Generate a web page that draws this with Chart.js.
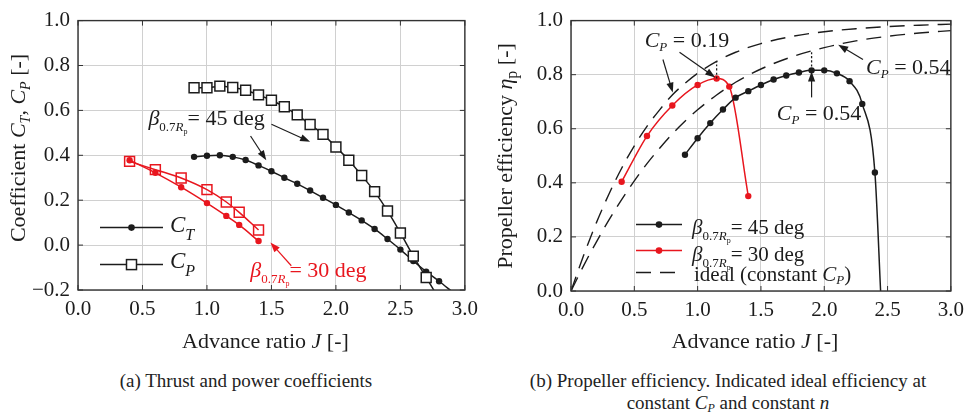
<!DOCTYPE html>
<html>
<head>
<meta charset="utf-8">
<script src="https://cdn.jsdelivr.net/npm/chart.js@4.4.0/dist/chart.umd.min.js"></script>
<style>
  body { margin: 0; width: 971px; height: 418px; background: #fff; position: relative; overflow: hidden;
         font-family: "Liberation Serif", "Times New Roman", serif; color: #222; }
  canvas { position: absolute; top: 0; }
  #left { left: 0; }
  #right { left: 485px; }
  .cap { position: absolute; font-size: 19px; text-align: center; line-height: 22px; }
  .cap sub { font-size: 12px; line-height: 0; vertical-align: -3px; }
</style>
</head>
<body>
<canvas id="left" width="485" height="360"></canvas>
<canvas id="right" width="486" height="360"></canvas>
<div class="cap" style="left:0;width:492px;top:370px">(a) Thrust and power coefficients</div>
<div class="cap" style="left:482px;width:492px;top:370px">(b) Propeller efficiency. Indicated ideal efficiency at<br>constant <i>C<sub>P</sub></i> and constant <i>n</i></div>

<script>
// ---- (a) thrust and power coefficients, beta = 45 deg ----
const jCt45 = [0.9, 1.0, 1.1, 1.2, 1.3, 1.4, 1.5, 1.6, 1.7, 1.8, 1.9, 2.0, 2.1, 2.2, 2.3, 2.4, 2.5, 2.6, 2.7, 2.8];
const ct45  = [0.393, 0.398, 0.400, 0.393, 0.379, 0.355, 0.329, 0.300, 0.273, 0.243, 0.211, 0.179, 0.145, 0.110, 0.072, 0.027, -0.020, -0.071, -0.118, -0.161];
const ct45End = [2.9, -0.207];   // line runs on past the last marker

const jCp45 = [0.9, 1.0, 1.1, 1.2, 1.3, 1.4, 1.5, 1.6, 1.7, 1.8, 1.9, 2.0, 2.1, 2.2, 2.3, 2.4, 2.5, 2.6, 2.7];
const cp45  = [0.701, 0.701, 0.708, 0.702, 0.690, 0.669, 0.645, 0.616, 0.580, 0.537, 0.493, 0.437, 0.378, 0.310, 0.238, 0.152, 0.054, -0.049, -0.144];
const cp45End = [2.8, -0.240];

// ---- (a) beta = 30 deg ----
const j30  = [0.4, 0.6, 0.8, 1.0, 1.15, 1.25, 1.4];
const ct30 = [0.378, 0.322, 0.258, 0.187, 0.130, 0.090, 0.018];
const cp30 = [0.373, 0.336, 0.299, 0.247, 0.192, 0.146, 0.067];

// ---- (b) propeller efficiency ----
const jEta45 = [0.9, 1.0, 1.1, 1.2, 1.3, 1.4, 1.5, 1.6, 1.7, 1.8, 1.9, 2.0, 2.1, 2.2, 2.3, 2.4];
const eta45  = [0.504, 0.565, 0.621, 0.671, 0.715, 0.739, 0.762, 0.782, 0.797, 0.808, 0.816, 0.816, 0.805, 0.776, 0.692, 0.438];
const eta45End = [2.447, -0.02];

const jEta30 = [0.4, 0.6, 0.8, 1.0, 1.15, 1.25, 1.4];
const eta30  = [0.404, 0.573, 0.686, 0.762, 0.786, 0.756, 0.351];

// ideal efficiency at constant C_P (dashed)
const jIdeal     = [0, 0.1, 0.2, 0.3, 0.4, 0.5, 0.6, 0.7, 0.8, 0.9, 1.0, 1.15, 1.3, 1.5, 1.75, 2.0, 2.25, 2.5, 2.75, 3.0];
const idealCp019 = [0, 0.132, 0.252, 0.359, 0.454, 0.537, 0.609, 0.670, 0.725, 0.768, 0.805, 0.849, 0.883, 0.915, 0.942, 0.959, 0.970, 0.978, 0.983, 0.987];
const idealCp054 = [0, 0.094, 0.181, 0.263, 0.338, 0.407, 0.471, 0.528, 0.581, 0.628, 0.670, 0.725, 0.772, 0.821, 0.867, 0.900, 0.925, 0.942, 0.954, 0.963];

// dotted markers from the operating points up to the ideal curves
const dropJ019 = [1.15, 1.15], dropEta019 = [0.786, 0.849];
const dropJ054 = [1.9, 1.9],   dropEta054 = [0.816, 0.888];

const xTicks = [0, 0.5, 1.0, 1.5, 2.0, 2.5, 3.0];

const FONT = '"Liberation Serif", "Times New Roman", serif';
const INK = '#1c1c1c';
const RED = '#e8161e';
const GRID = '#d0d0d0';

const pts = (xs, ys) => xs.map((x, i) => ({ x, y: ys[i] }));
const font = (size, italic) => (italic ? 'italic ' : '') + size + 'px ' + FONT;
const fmt = v => {
  const r = Math.round(v * 10) / 10;
  return (r < 0 ? '\u2212' : '') + Math.abs(r).toFixed(1);
};

// draw a row of text pieces: [text, size, italic, dy]
function runs(ctx, x, y, parts, align) {
  let w = 0;
  parts.forEach(p => { ctx.font = font(p[1], p[2]); w += ctx.measureText(p[0]).width; });
  let cx = align === 'center' ? x - w / 2 : align === 'right' ? x - w : x;
  ctx.textAlign = 'left';
  ctx.textBaseline = 'alphabetic';
  parts.forEach(p => {
    ctx.font = font(p[1], p[2]);
    ctx.fillText(p[0], cx, y + (p[3] || 0));
    cx += ctx.measureText(p[0]).width;
  });
}

function arrow(ctx, x1, y1, x2, y2, color) {
  const a = Math.atan2(y2 - y1, x2 - x1), L = 10, W = 3.6;
  ctx.strokeStyle = color; ctx.fillStyle = color; ctx.lineWidth = 1.2;
  ctx.beginPath(); ctx.moveTo(x1, y1);
  ctx.lineTo(x2 - L * 0.8 * Math.cos(a), y2 - L * 0.8 * Math.sin(a)); ctx.stroke();
  ctx.beginPath();
  ctx.moveTo(x2, y2);
  ctx.lineTo(x2 - L * Math.cos(a) + W * Math.sin(a), y2 - L * Math.sin(a) - W * Math.cos(a));
  ctx.lineTo(x2 - L * Math.cos(a) - W * Math.sin(a), y2 - L * Math.sin(a) + W * Math.cos(a));
  ctx.closePath(); ctx.fill();
}

const beta = (deg, size) => [['\u03b2', size, true, 0], ['0.7', 13, false, 6], ['R', 13, true, 6], ['p', 8, false, 9], ['= ' + deg + ' deg', size, false, 0]];

// frame, inner ticks, legend, annotations, axis titles
const deco = {
  id: 'deco',
  afterDraw(chart, args, o) {
    const { ctx, chartArea: a, scales: { x, y } } = chart;
    ctx.save();
    // frame + inward ticks
    ctx.strokeStyle = '#333'; ctx.lineWidth = 1.4;
    ctx.strokeRect(a.left, a.top, a.right - a.left, a.bottom - a.top);
    ctx.lineWidth = 1;
    ctx.beginPath();
    x.ticks.forEach(t => { const px = x.getPixelForValue(t.value);
      ctx.moveTo(px, a.bottom); ctx.lineTo(px, a.bottom - 5); ctx.moveTo(px, a.top); ctx.lineTo(px, a.top + 5); });
    y.ticks.forEach(t => { const py = y.getPixelForValue(t.value);
      ctx.moveTo(a.left, py); ctx.lineTo(a.left + 5, py); ctx.moveTo(a.right, py); ctx.lineTo(a.right - 5, py); });
    ctx.stroke();

    // annotations in data coordinates
    (o.texts || []).forEach(t => {
      ctx.fillStyle = t.color || INK;
      runs(ctx, x.getPixelForValue(t.at[0]), y.getPixelForValue(t.at[1]), t.parts, 'left');
    });
    (o.arrows || []).forEach(r => arrow(ctx,
      x.getPixelForValue(r.from[0]), y.getPixelForValue(r.from[1]),
      x.getPixelForValue(r.to[0]), y.getPixelForValue(r.to[1]), r.color || INK));

    // legend rows, offsets from the plot corner
    (o.legend || []).forEach(l => {
      const x1 = a.left + l.x1, x2 = a.left + l.x2, ly = a.top + l.y, mx = (x1 + x2) / 2;
      ctx.strokeStyle = l.color; ctx.lineWidth = 1.5;
      ctx.setLineDash(l.dash || []);
      ctx.beginPath(); ctx.moveTo(x1, ly); ctx.lineTo(x2, ly); ctx.stroke();
      ctx.setLineDash([]);
      if (l.marker === 'dot') {
        ctx.fillStyle = l.color; ctx.beginPath(); ctx.arc(mx, ly, 3.3, 0, Math.PI * 2); ctx.fill();
      } else if (l.marker === 'square') {
        ctx.fillStyle = '#fff'; ctx.fillRect(mx - 5, ly - 5, 10, 10);
        ctx.strokeRect(mx - 5, ly - 5, 10, 10);
      }
      ctx.fillStyle = INK;
      runs(ctx, a.left + l.tx, a.top + l.ty, l.parts, 'left');
    });

    // axis titles
    ctx.fillStyle = INK;
    runs(ctx, (a.left + a.right) / 2 + o.xTitleDx, o.xTitleY, o.xTitle, 'center');
    ctx.translate(o.yTitleX, o.yTitleY);
    ctx.rotate(-Math.PI / 2);
    runs(ctx, 0, 0, o.yTitle, 'center');
    ctx.restore();
  }
};

function axes(yMin, yMax, yWidth, xHeight) {
  const tickFont = { family: FONT, size: 21 };
  return {
    x: { type: 'linear', min: 0, max: 3,
         afterBuildTicks: s => { s.ticks = xTicks.map(v => ({ value: v })); },
         ticks: { padding: 7, color: INK, font: tickFont, callback: v => fmt(v), maxRotation: 0 },
         grid: { color: GRID, drawTicks: false, lineWidth: 1 }, border: { display: false },
         afterFit: s => { s.height = xHeight; } },
    y: { type: 'linear', min: yMin, max: yMax,
         ticks: { stepSize: 0.2, padding: 8, color: INK, font: tickFont, callback: v => fmt(v) },
         grid: { color: GRID, drawTicks: false, lineWidth: 1 }, border: { display: false },
         afterFit: s => { s.width = yWidth; } }
  };
}

const lineSet = (data, color, extra) => Object.assign({
  data, showLine: true, borderColor: color, backgroundColor: color, borderWidth: 1.5,
  pointRadius: 3.2, pointHoverRadius: 3.2, pointBorderWidth: 0, tension: 0.35, cubicInterpolationMode: 'monotone'
}, extra || {});

// hide the marker on the run-on end point
const hideLast = n => c => (c.dataIndex >= n ? 0 : 3.2);
const hideLastSq = n => c => (c.dataIndex >= n ? 0 : 7);

function drawCharts() {
  new Chart(document.getElementById('left'), {
    type: 'scatter',
    data: { datasets: [
      lineSet(pts(jCp45, cp45).concat([{ x: cp45End[0], y: cp45End[1] }]), INK,
        { pointStyle: 'rect', pointRadius: hideLastSq(cp45.length), pointBackgroundColor: '#fff', pointBorderWidth: 1.5, pointBorderColor: INK }),
      lineSet(pts(jCt45, ct45).concat([{ x: ct45End[0], y: ct45End[1] }]), INK, { pointRadius: hideLast(ct45.length) }),
      lineSet(pts(j30, cp30), RED,
        { pointStyle: 'rect', pointRadius: 7, pointBackgroundColor: 'rgba(255,255,255,0)', pointBorderWidth: 1.5, pointBorderColor: RED, tension: 0.1 }),
      lineSet(pts(j30, ct30), RED, { tension: 0.1 })
    ] },
    options: {
      responsive: false, animation: false, events: [],
      layout: { padding: { top: 12, right: 17, left: 0, bottom: 0 } },
      plugins: { legend: { display: false }, tooltip: { enabled: false },
        deco: {
          xTitle: [['Advance ratio ', 22, false], ['J', 22, true], [' [-]', 22, false]], xTitleY: 348, xTitleDx: -6,
          yTitle: [['Coefficient ', 22, false], ['C', 22, true], ['T', 14, true, 5], [', ', 22, false], ['C', 22, true], ['P', 14, true, 5], [' [-]', 22, false]],
          yTitleX: 25, yTitleY: 148,
          texts: [
            { at: [0.546, 0.537], parts: beta(45, 22) },
            { at: [1.336, -0.142], parts: beta(30, 22), color: RED }
          ],
          arrows: [
            { from: [1.50, 0.538], to: [1.80, 0.460] },
            { from: [1.338, 0.486], to: [1.46, 0.378] },
            { from: [1.654, -0.092], to: [1.492, 0.012], color: RED }
          ],
          legend: [
            { x1: 22, x2: 85, y: 207, color: INK, marker: 'dot', tx: 92, ty: 211, parts: [['C', 23, true], ['T', 16, true, 8]] },
            { x1: 22, x2: 85, y: 244, color: INK, marker: 'square', tx: 92, ty: 247, parts: [['C', 23, true], ['P', 16, true, 8]] }
          ]
        } },
      scales: axes(-0.2, 1.0, 78, 70)
    },
    plugins: [deco]
  });

  new Chart(document.getElementById('right'), {
    type: 'scatter',
    data: { datasets: [
      lineSet(pts(jIdeal, idealCp019), INK, { pointRadius: 0, borderDash: [15, 9], borderWidth: 1.4 }),
      lineSet(pts(jIdeal, idealCp054), INK, { pointRadius: 0, borderDash: [15, 9], borderWidth: 1.4 }),
      lineSet(pts(dropJ019, dropEta019), INK, { pointRadius: 0, borderDash: [2, 2], borderWidth: 1.3, tension: 0 }),
      lineSet(pts(dropJ054, dropEta054), INK, { pointRadius: 0, borderDash: [2, 2], borderWidth: 1.3, tension: 0 }),
      lineSet(pts(jEta45, eta45).concat([{ x: eta45End[0], y: eta45End[1] }]), INK, { pointRadius: hideLast(eta45.length) }),
      lineSet(pts(jEta30, eta30), RED)
    ] },
    options: {
      responsive: false, animation: false, events: [],
      layout: { padding: { top: 17, right: 18, left: 0, bottom: 0 } },
      plugins: { legend: { display: false }, tooltip: { enabled: false },
        deco: {
          xTitle: [['Advance ratio ', 22, false], ['J', 22, true], [' [-]', 22, false]], xTitleY: 348, xTitleDx: -6,
          yTitle: [['Propeller efficiency ', 22, false], ['\u03b7', 22, true], ['p', 16, false, 5], [' [-]', 22, false]],
          yTitleX: 27, yTitleY: 156,
          texts: [
            { at: [0.582, 0.901], parts: [['C', 22, true], ['P', 13, true, 4], [' = 0.19', 22, false]] },
            { at: [2.33, 0.801], parts: [['C', 22, true], ['P', 13, true, 4], [' = 0.54', 22, false]] },
            { at: [1.625, 0.631], parts: [['C', 22, true], ['P', 13, true, 4], [' = 0.54', 22, false]] }
          ],
          arrows: [
            { from: [0.726, 0.856], to: [0.804, 0.734] },
            { from: [0.857, 0.883], to: [1.139, 0.790] },
            { from: [2.306, 0.856], to: [2.11, 0.911] },
            { from: [1.9, 0.716], to: [1.9, 0.812] }
          ],
          legend: [
            { x1: 65, x2: 111, y: 204, color: INK, marker: 'dot', tx: 121, ty: 213, parts: beta(45, 21) },
            { x1: 65, x2: 111, y: 230, color: RED, marker: 'dot', tx: 121, ty: 240, parts: beta(30, 21) },
            { x1: 65, x2: 111, y: 252, color: INK, dash: [15, 9], tx: 123, ty: 260,
              parts: [['ideal (constant ', 21, false], ['C', 21, true], ['P', 13, true, 3], [')', 21, false]] }
          ]
        } },
      scales: axes(0, 1.0, 86, 69)
    },
    plugins: [deco]
  });
}

// make sure the serif face is ready before the canvases are painted
Promise.all([
  document.fonts.load('21px "Liberation Serif"'),
  document.fonts.load('italic 21px "Liberation Serif"')
]).then(drawCharts, drawCharts);
</script>
</body>
</html>
